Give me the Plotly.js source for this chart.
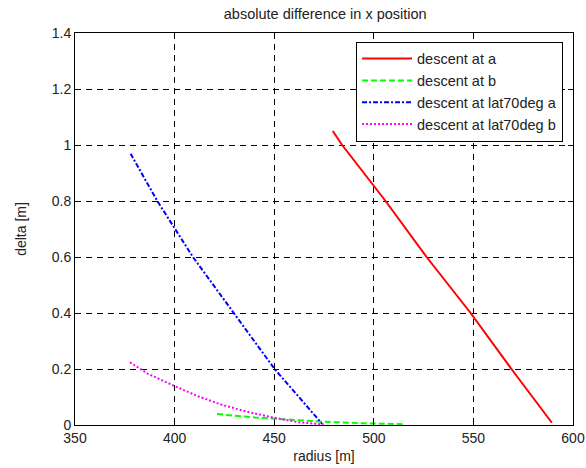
<!DOCTYPE html>
<html>
<head>
<meta charset="utf-8">
<script src="https://cdn.plot.ly/plotly-3.0.1.min.js"></script>
<style>html,body{margin:0;padding:0;background:#fff;}#chart{width:586px;height:468px;}</style>
</head>
<body>
<div id="chart"></div>
<script>
var seriesNames = ["descent at a", "descent at b", "descent at lat70deg a", "descent at lat70deg b"];

var redX = [479.4, 484.1, 505.9, 526.5, 548.6, 569.1, 589.4];
var redY = [1.05, 1.0, 0.8, 0.6, 0.4, 0.2, 0.008];

var greenX = [421.3, 440.2, 460.0, 473.7, 495.0, 515.1];
var greenY = [0.039, 0.027, 0.018, 0.012, 0.006, 0.003];

var blueX = [377.9, 391.3, 409.2, 429.8, 450.2, 474.1];
var blueY = [0.969, 0.8, 0.6, 0.4, 0.2, 0.004];

var magX = [377.6, 386.6, 400.0, 411.6, 423.4, 436.6, 450.0, 462.0, 474.9];
var magY = [0.224, 0.183, 0.139, 0.103, 0.073, 0.047, 0.026, 0.010, 0.002];

var xTicks = [350, 400, 450, 500, 550, 600];
var yTicks = [0, 0.2, 0.4, 0.6, 0.8, 1, 1.2, 1.4];
var yTickText = ["0", "0.2", "0.4", "0.6", "0.8", "1", "1.2", "1.4"];

var traces = [
  {x: redX, y: redY, name: seriesNames[0], mode: "lines", line: {color: "#ff0000", width: 2, dash: "solid"}},
  {x: greenX, y: greenY, name: seriesNames[1], mode: "lines", line: {color: "#00ff00", width: 2, dash: "6px,3px"}},
  {x: blueX, y: blueY, name: seriesNames[2], mode: "lines", line: {color: "#0000ff", width: 2, dash: "5px,2px,2px,2px"}},
  {x: magX, y: magY, name: seriesNames[3], mode: "lines", line: {color: "#ff00ff", width: 2, dash: "2px,2px"}}
];

var fontFam = "Liberation Sans, Arial, sans-serif";
var txtColor = "#222";

var axisCommon = {
  showline: true, mirror: "ticks", linecolor: "#000", linewidth: 1,
  ticks: "inside", ticklen: 5, tickcolor: "#000",
  showgrid: true, gridcolor: "#000", gridwidth: 1, griddash: "6px,5px",
  zeroline: false, tickfont: {family: fontFam, size: 14, color: txtColor}
};

var layout = {
  width: 586, height: 468,
  margin: {l: 75, r: 13, t: 33, b: 43},
  paper_bgcolor: "#fff", plot_bgcolor: "#fff",
  title: {text: "absolute difference in x position", font: {family: fontFam, size: 14.5, color: txtColor}, x: 0.555, xanchor: "center", y: 0.97, yanchor: "middle"},
  xaxis: Object.assign({}, axisCommon, {range: [350, 600], tickvals: xTicks, ticktext: xTicks.map(String),
    title: {text: "radius [m]", font: {family: fontFam, size: 14, color: txtColor}, standoff: 6}}),
  yaxis: Object.assign({}, axisCommon, {range: [0, 1.4], tickvals: yTicks, ticktext: yTickText,
    title: {text: "delta [m]", font: {family: fontFam, size: 14, color: txtColor}, standoff: 21}}),
  showlegend: true,
  legend: {x: 0.98, xanchor: "right", y: 0.978, yanchor: "top", bgcolor: "#fff", bordercolor: "#000", borderwidth: 1,
    font: {family: fontFam, size: 14.5, color: txtColor}, tracegroupgap: 0, itemwidth: 50}
};

Plotly.newPlot("chart", traces, layout, {displayModeBar: false, staticPlot: true});
</script>
</body>
</html>
